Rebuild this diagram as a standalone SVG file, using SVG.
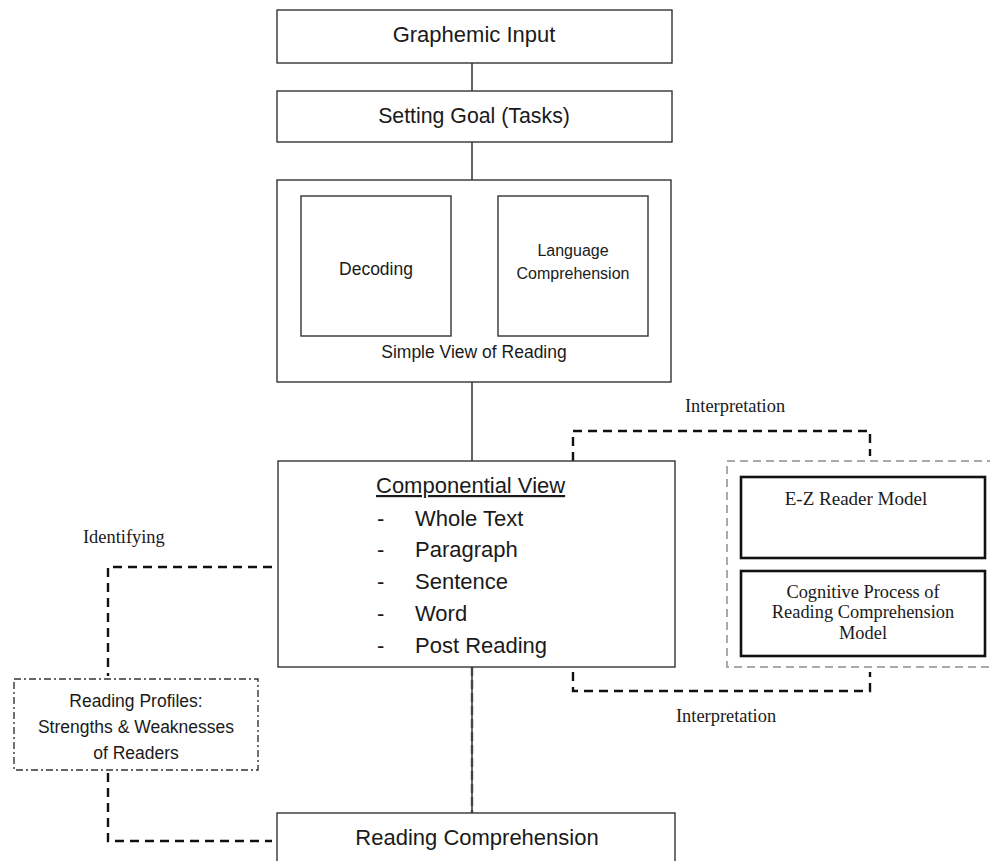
<svg xmlns="http://www.w3.org/2000/svg" width="990" height="861" viewBox="0 0 990 861">
<style>
.box{fill:#fff;stroke:#333;stroke-width:1.4}
.bold{fill:#fff;stroke:#111;stroke-width:2.6}
.s{font-family:"Liberation Sans",Arial,sans-serif;fill:#1a1a1a}
.r{font-family:"Liberation Serif","Times New Roman",serif;fill:#1a1a1a}
.c{text-anchor:middle}
.line{fill:none;stroke:#222;stroke-width:1.4}
.dash{fill:none;stroke:#111;stroke-width:2.4;stroke-dasharray:9 6}
</style>
<rect width="990" height="861" fill="#fff"/>
<g id="connectors">
<line class="line" x1="472" y1="63" x2="472" y2="91"/>
<line class="line" x1="472" y1="142" x2="472" y2="180"/>
<line class="line" x1="472" y1="382" x2="472" y2="461"/>
<line class="line" x1="472" y1="667" x2="472" y2="813"/>
<line x1="472" y1="667" x2="472" y2="813" fill="none" stroke="#444" stroke-width="2.4" stroke-dasharray="9 4"/>
<path class="dash" d="M573,461 V431 H870 V456"/>
<path class="dash" d="M573,672 V691 H870 V672"/>
<path class="dash" d="M272,567 H108 V676"/>
<path class="dash" d="M108,773 V841 H272"/>
</g>
<g id="graphemic-input">
<rect class="box" x="277" y="10" width="395" height="53"/>
<text class="s c" x="474" y="42" font-size="22">Graphemic Input</text>
</g>
<g id="setting-goal">
<rect class="box" x="277" y="91" width="395" height="51"/>
<text class="s c" x="474" y="123" font-size="21.3">Setting Goal (Tasks)</text>
</g>
<g id="simple-view">
<rect class="box" x="277" y="180" width="394" height="202"/>
<text class="s c" x="474" y="358" font-size="17.5">Simple View of Reading</text>
</g>
<g id="decoding">
<rect class="box" x="301" y="196" width="150" height="140"/>
<text class="s c" x="376" y="275" font-size="17.5">Decoding</text>
</g>
<g id="language-comprehension">
<rect class="box" x="498" y="196" width="150" height="140"/>
<text class="s c" x="573" y="256" font-size="16">Language</text>
<text class="s c" x="573" y="279" font-size="16">Comprehension</text>
</g>
<g id="componential-view">
<rect class="box" x="278" y="461" width="397" height="206"/>
<text class="s" x="376" y="493" font-size="22" text-decoration="underline">Componential View</text>
<g class="s" font-size="22">
<text x="377" y="526">-</text><text x="415" y="526">Whole Text</text>
<text x="377" y="557">-</text><text x="415" y="557">Paragraph</text>
<text x="377" y="589">-</text><text x="415" y="589">Sentence</text>
<text x="377" y="621">-</text><text x="415" y="621">Word</text>
<text x="377" y="653">-</text><text x="415" y="653">Post Reading</text>
</g>
</g>
<g id="models-group">
<rect x="727" y="461" width="275" height="206" fill="none" stroke="#aaa" stroke-width="2" stroke-dasharray="8 5"/>
</g>
<g id="ez-reader">
<rect class="bold" x="741" y="477" width="244" height="81"/>
<text class="r c" x="856" y="505" font-size="19">E-Z Reader Model</text>
</g>
<g id="cognitive-process">
<rect class="bold" x="741" y="571" width="244" height="85"/>
<text class="r c" x="863" y="598" font-size="18.4">Cognitive Process of</text>
<text class="r c" x="863" y="618" font-size="18.4">Reading Comprehension</text>
<text class="r c" x="863" y="639" font-size="18.4">Model</text>
</g>
<g id="reading-profiles">
<rect x="14" y="679" width="244" height="91" fill="#fff" stroke="#333" stroke-width="1.4" stroke-dasharray="7 3 2 3"/>
<text class="s c" x="136" y="707" font-size="17.5">Reading Profiles:</text>
<text class="s c" x="136" y="733" font-size="17.5">Strengths &amp; Weaknesses</text>
<text class="s c" x="136" y="759" font-size="17.5">of Readers</text>
</g>
<g id="reading-comprehension">
<rect class="box" x="277" y="813" width="398" height="60"/>
<text class="s c" x="477" y="845" font-size="22">Reading Comprehension</text>
</g>
<g id="labels">
<text class="r" x="685" y="412" font-size="18.4">Interpretation</text>
<text class="r" x="676" y="722" font-size="18.4">Interpretation</text>
<text class="r" x="83" y="543" font-size="18.4">Identifying</text>
</g>
</svg>
